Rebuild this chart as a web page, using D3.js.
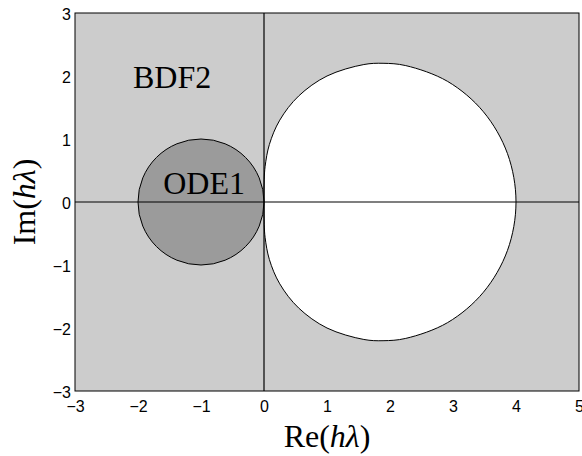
<!DOCTYPE html>
<html>
<head>
<meta charset="utf-8">
<script src="https://cdn.jsdelivr.net/npm/d3@7"></script>
<style>
body { margin: 0; background: #fff; }
svg { display: block; }
</style>
</head>
<body>
<div id="chart"></div>
<script>
// BDF2 boundary locus (going round the white region)
const bdfX = [0, 0.0002, 0.0036, 0.0179, 0.0858, 0.25, 0.5494, 1.0, 1.5846, 1.8895, 2.25, 2.9142, 3.4821, 3.8649, 4.0,
              3.8649, 3.4821, 2.9142, 2.25, 1.8895, 1.5846, 1.0, 0.5494, 0.25, 0.0858, 0.0179, 0.0036, 0.0002];
const bdfY = [0, 0.1763, 0.3626, 0.567, 0.9142, 1.299, 1.6819, 2.0, 2.1819, 2.2017, 2.1651, 1.9142, 1.433, 0.7676, 0,
              -0.7676, -1.433, -1.9142, -2.1651, -2.2017, -2.1819, -2.0, -1.6819, -1.299, -0.9142, -0.567, -0.3626, -0.1763];

// ODE1 (forward Euler) disk
const ode1Center = [-1, 0];
const ode1Radius = 1;

const xTicks = [-3, -2, -1, 0, 1, 2, 3, 4, 5];
const yTicks = [-3, -2, -1, 0, 1, 2, 3];
const labels = [
  { text: "BDF2", x: -2.08, y: 1.81 },
  { text: "ODE1", x: -1.6, y: 0.12 }
];

const W = 582, H = 456;
const margin = { top: 13, right: 3, bottom: 65, left: 75 };
const width = W - margin.left - margin.right,
      height = H - margin.top - margin.bottom;

const svg = d3.select("#chart").append("svg")
  .attr("width", W).attr("height", H);

const g = svg.append("g")
  .attr("transform", `translate(${margin.left},${margin.top})`);

const x = d3.scaleLinear().domain([-3, 5]).range([0, width]);
const y = d3.scaleLinear().domain([-3, 3]).range([height, 0]);

// stable region background
g.append("rect")
  .attr("width", width).attr("height", height)
  .attr("fill", "#cccccc");

// unstable region of BDF2 (white)
const pts = bdfX.map((v, i) => [v, bdfY[i]]);
const line = d3.line()
  .x(d => x(d[0])).y(d => y(d[1]))
  .curve(d3.curveCatmullRomClosed);
g.append("path")
  .attr("d", line(pts))
  .attr("fill", "#fff")
  .attr("stroke", "#000")
  .attr("stroke-width", 1);

// ODE1 disk
g.append("circle")
  .attr("cx", x(ode1Center[0])).attr("cy", y(ode1Center[1]))
  .attr("r", x(ode1Radius) - x(0))
  .attr("fill", "#9b9b9b")
  .attr("stroke", "#000")
  .attr("stroke-width", 1);

// axis lines through origin
g.append("line")
  .attr("x1", 0).attr("x2", width)
  .attr("y1", y(0)).attr("y2", y(0))
  .attr("stroke", "#000").attr("stroke-width", 1.2);
g.append("line")
  .attr("x1", x(0)).attr("x2", x(0))
  .attr("y1", 0).attr("y2", height)
  .attr("stroke", "#000").attr("stroke-width", 1.2);

const serif = "'Liberation Serif', 'DejaVu Serif', serif";

// text labels inside
g.selectAll(".lbl")
  .data(labels)
  .enter().append("text")
  .attr("class", "lbl")
  .attr("x", d => x(d.x)).attr("y", d => y(d.y))
  .style("font-family", serif)
  .style("font-size", "32px")
  .attr("fill", "#000")
  .text(d => d.text);

// frame
g.append("rect")
  .attr("width", width).attr("height", height)
  .attr("fill", "none")
  .attr("stroke", "#000").attr("stroke-width", 1);

// axes (labels only, no tick marks)
const fmt = d => d < 0 ? "\u2212" + Math.abs(d) : d;
const xAxis = d3.axisBottom(x).tickValues(xTicks).tickSize(0).tickPadding(10).tickFormat(fmt);
const yAxis = d3.axisLeft(y).tickValues(yTicks).tickSize(0).tickPadding(4).tickFormat(fmt);

const gx = g.append("g").attr("transform", `translate(0,${height})`).call(xAxis);
const gy = g.append("g").call(yAxis);
[gx, gy].forEach(a => {
  a.attr("font-size", null).attr("font-family", null);
  a.select(".domain").remove();
  a.selectAll("text")
    .style("font-family", "'Liberation Sans', Arial, sans-serif")
    .style("font-size", "16px")
    .attr("fill", "#000");
});
gy.selectAll("text").attr("dy", "0.42em");

// axis titles
const xt = svg.append("text")
  .attr("x", margin.left + width / 2).attr("y", 447)
  .attr("text-anchor", "middle")
  .style("font-family", serif).style("font-size", "32px");
xt.append("tspan").text("Re(");
xt.append("tspan").attr("font-style", "italic").text("h\u03BB");
xt.append("tspan").text(")");

const yt = svg.append("text")
  .attr("transform", `translate(35,${margin.top + height / 2}) rotate(-90)`)
  .attr("text-anchor", "middle")
  .style("font-family", serif).style("font-size", "32px");
yt.append("tspan").text("Im(");
yt.append("tspan").attr("font-style", "italic").text("h\u03BB");
yt.append("tspan").text(")");
</script>
</body>
</html>
